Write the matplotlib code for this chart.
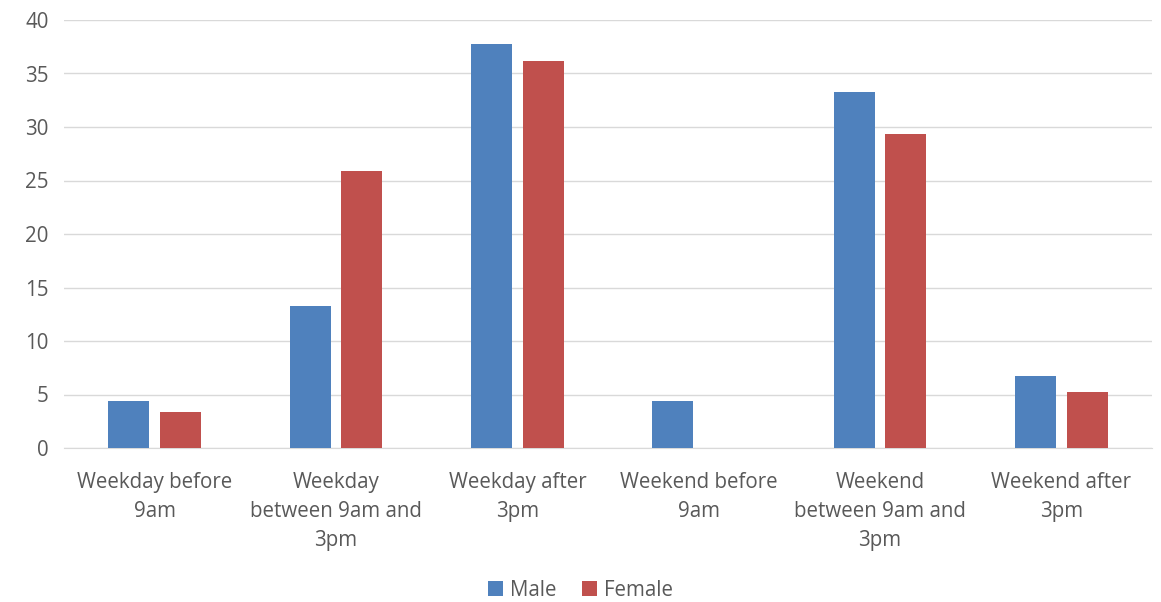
import matplotlib.pyplot as plt
import numpy as np

CATEGORIES = ['Weekday before\n9am', 'Weekday\nbetween 9am and\n3pm', 'Weekday after\n3pm',
              'Weekend before\n9am', 'Weekend\nbetween 9am and\n3pm', 'Weekend after\n3pm']
MALE   = [4.4, 13.3, 37.8, 4.4, 33.3, 6.7]
FEMALE = [3.4, 25.9, 36.2, 0.0, 29.3, 5.2]
COLORS = {'Male': '#4f81bd', 'Female': '#c0504d'}
TEXT   = '#595959'

plt.rcParams['font.family'] = ['Open Sans', 'DejaVu Sans']

fig = plt.figure(figsize=(11.61, 6.02), dpi=100)
ax = fig.add_axes([64 / 1161, 1 - 448 / 602, 1088 / 1161, 428 / 602])

x     = np.arange(len(CATEGORIES))
width = 0.226
gap   = 0.06
ax.bar(x - (width + gap) / 2, MALE, width, color=COLORS['Male'], label='Male', zorder=3)
ax.bar(x + (width + gap) / 2, FEMALE, width, color=COLORS['Female'], label='Female', zorder=3)

ax.set_xlim(-0.5, len(CATEGORIES) - 0.5)
ax.set_ylim(0, 40)
ax.set_yticks(range(0, 41, 5))
ax.set_xticks(x)
ax.set_xticklabels(CATEGORIES, fontsize=14.8, color=TEXT, linespacing=1.5)
ax.tick_params(axis='y', labelsize=14.8, labelcolor=TEXT, length=0, pad=11)
ax.tick_params(axis='x', length=0, pad=17)
ax.grid(axis='y', color='#d9d9d9', linewidth=1, zorder=0)
for s in ['top', 'right', 'left']:
    ax.spines[s].set_visible(False)
ax.spines['bottom'].set_color('#d9d9d9')

fig.legend(loc='center', bbox_to_anchor=(0.5, 1 - 590 / 602), ncol=2, frameon=False,
           fontsize=14.8, labelcolor=TEXT, handlelength=0.75, handleheight=0.75,
           handletextpad=0.35, columnspacing=1.2)

fig.savefig('out.png', dpi=100)
